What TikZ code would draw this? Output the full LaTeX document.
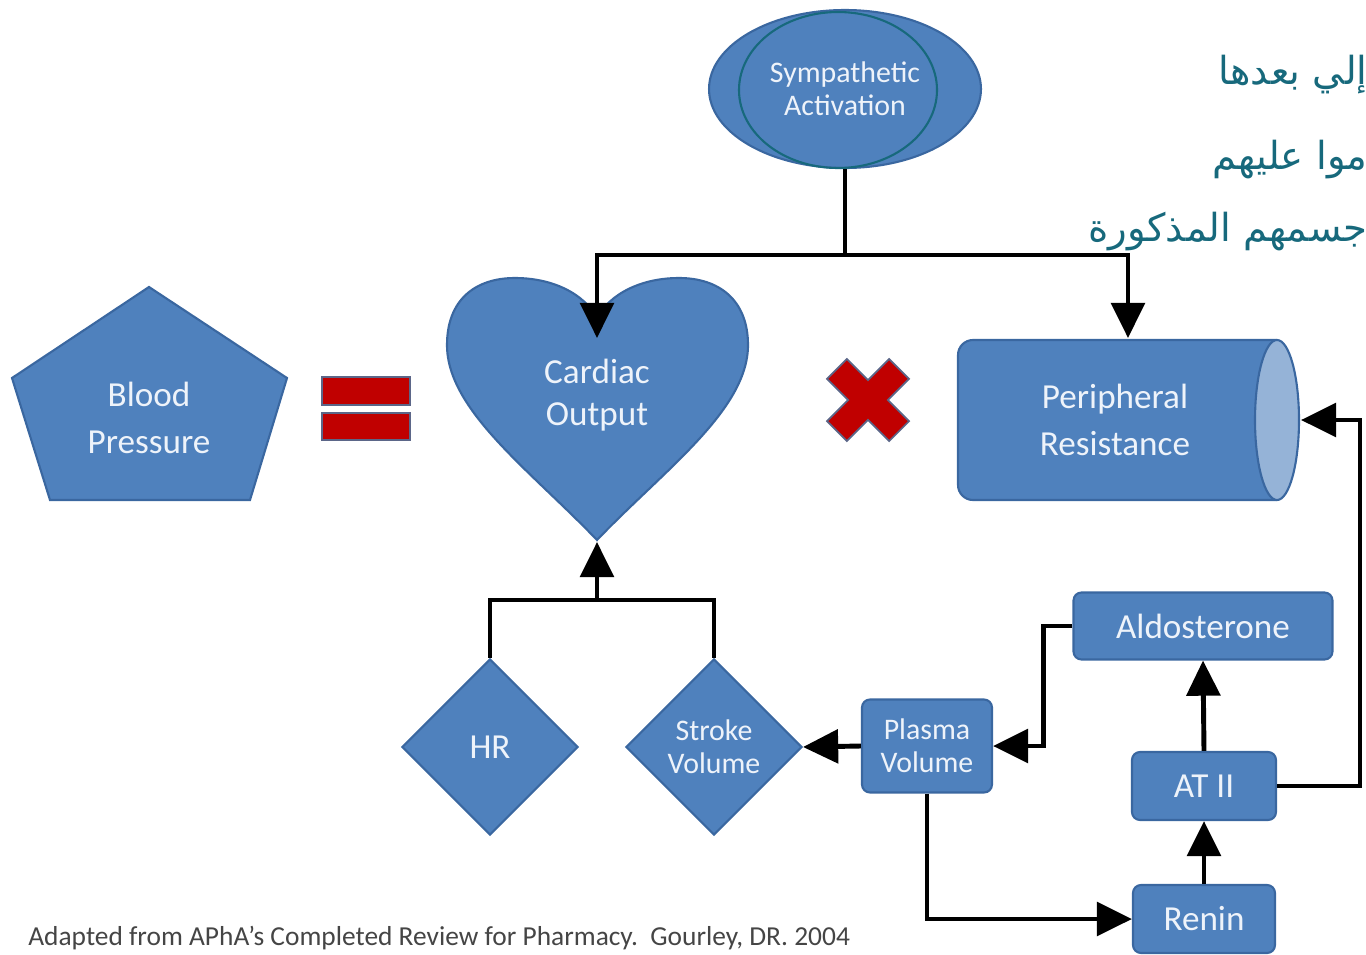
\documentclass[tikz,border=0pt]{standalone}
\usepackage{fontspec}
\setmainfont{Carlito}
\newfontfamily\arabicfont[Script=Arabic]{DejaVu Sans}
\TeXXeTstate=1
\usetikzlibrary{shapes.geometric,arrows.meta}
\definecolor{boxblue}{HTML}{4F81BD}
\definecolor{boxline}{HTML}{3A67A0}
\definecolor{lighttxt}{HTML}{EEF3FA}
\definecolor{endblue}{HTML}{95B3D7}
\definecolor{barred}{HTML}{C00000}
\definecolor{barline}{HTML}{5B6688}
\definecolor{penteal}{HTML}{17697C}
\definecolor{notegray}{HTML}{454545}
\begin{document}
\begin{tikzpicture}[x=0.02cm, y=-0.02cm,
  blk/.style={fill=boxblue, draw=boxline, line width=1.2pt},
  lbl/.style={text=lighttxt, align=center, font=\fontsize{20}{27}\selectfont},
  small lbl/.style={lbl, font=\fontsize{17}{19}\selectfont},
  rbox/.style={blk, lbl, rectangle, rounded corners=4.5pt, inner sep=0pt},
  link/.style={line width=2.8pt, line join=miter},
  tip/.style={-{Triangle[length=20pt,width=19pt]}},
  bar/.style={fill=barred, draw=barline, line width=1pt},
  note/.style={penteal, anchor=east, inner sep=0pt, font=\arabicfont\fontsize{22}{22}\selectfont}]
\useasboundingbox (0,0) rectangle (1366,954);
% top
\node[blk, ellipse, minimum width=5.44cm, minimum height=3.16cm, inner sep=0pt, small lbl] (sym) at (845,89) {Sympathetic\\Activation};
\draw[penteal, line width=1.2pt] (838,90) ellipse [x radius=99, y radius=78];
% blood pressure
\draw[blk] (149,287) -- (287,378) -- (250,500) -- (50,500) -- (12,378) -- cycle;
\node[lbl] (bp) at (149,418) {Blood\\Pressure};
\draw[bar] (322,377) rectangle (410,405);
\draw[bar] (322,413) rectangle (410,440);
% heart
\draw[blk] (597,540) .. controls (530,470) and (447,410) .. (447,345)
  .. controls (447,300) and (475,278) .. (515,278)
  .. controls (560,278) and (590,300) .. (597,320)
  .. controls (604,300) and (634,278) .. (679,278)
  .. controls (719,278) and (748,300) .. (748,345)
  .. controls (748,410) and (664,470) .. (597,540) -- cycle;
\node[lbl, font=\fontsize{20}{24}\selectfont] (co) at (597,395) {Cardiac\\Output};
\coordinate (cotop) at (597,338);
\coordinate (cobot) at (597,542);
% times
\draw[bar, shift={(868,400)}, rotate=45] (-14,-44) -- (14,-44) -- (14,-14) -- (44,-14) -- (44,14) -- (14,14)
  -- (14,44) -- (-14,44) -- (-14,14) -- (-44,14) -- (-44,-14) -- (-14,-14) -- cycle;
% resistance
\draw[blk, rounded corners=0.3cm] (1277,340) -- (958,340) -- (958,500) -- (1277,500);
\draw[blk, fill=endblue] (1277,420) ellipse [x radius=22, y radius=80];
\node[lbl] (pr) at (1115,420) {Peripheral\\Resistance};
\coordinate (prtop) at (1128,338);
\coordinate (prend) at (1301,420);
% lower nodes
\node[blk, diamond, minimum width=3.52cm, minimum height=3.52cm, inner sep=0pt, lbl] (hr) at (490,747) {HR};
\node[blk, diamond, minimum width=3.52cm, minimum height=3.52cm, inner sep=0pt, small lbl] (sv) at (714,747) {Stroke\\Volume};
\node[rbox, small lbl, minimum width=2.6cm, minimum height=1.86cm] (pv) at (927,746) {Plasma\\Volume};
\node[rbox, minimum width=5.18cm, minimum height=1.34cm] (ald) at (1203,626) {Aldosterone};
\node[rbox, minimum width=2.88cm, minimum height=1.36cm] (at) at (1204,786) {AT II};
\node[rbox, minimum width=2.84cm, minimum height=1.36cm] (ren) at (1204,919) {Renin};
% connectors
\coordinate (split) at (845,255);
\coordinate (join) at (597,600);
\coordinate (loop) at (1360,420);
\draw[link] (sym.south) -- (split);
\draw[link, tip] (split) -| (cotop);
\draw[link, tip] (split) -| (prtop);
\draw[link] (hr.north) |- (join) -| (sv.north);
\draw[link, tip] (join) -- (cobot);
\draw[link, tip] (pv.west) -- (sv.east);
\draw[link, tip] (ren.north) -- (at.south);
\draw[link, tip] (at.north) -- (ald.south);
\draw[link, tip] (ald.west) -- ++(-29,0) |- (pv.east);
\draw[link, tip] (pv.south) |- (ren.west);
\draw[link, tip] (at.east) -| (loop) -- (prend);
% notes
\node[note] (note1) at (1368,75) {\beginR إلي بعدها\endR};
\node[note] (note2) at (1368,160) {\beginR موا عليهم\endR};
\node[note] (note3) at (1368,232) {\beginR جسمهم المذكورة\endR};
\node[notegray, anchor=west, inner sep=0pt, font=\fontsize{15.6}{15.6}\selectfont] (src) at (28,938) {Adapted from APhA’s Completed Review for Pharmacy.\ \ Gourley, DR. 2004};
\end{tikzpicture}
\end{document}
